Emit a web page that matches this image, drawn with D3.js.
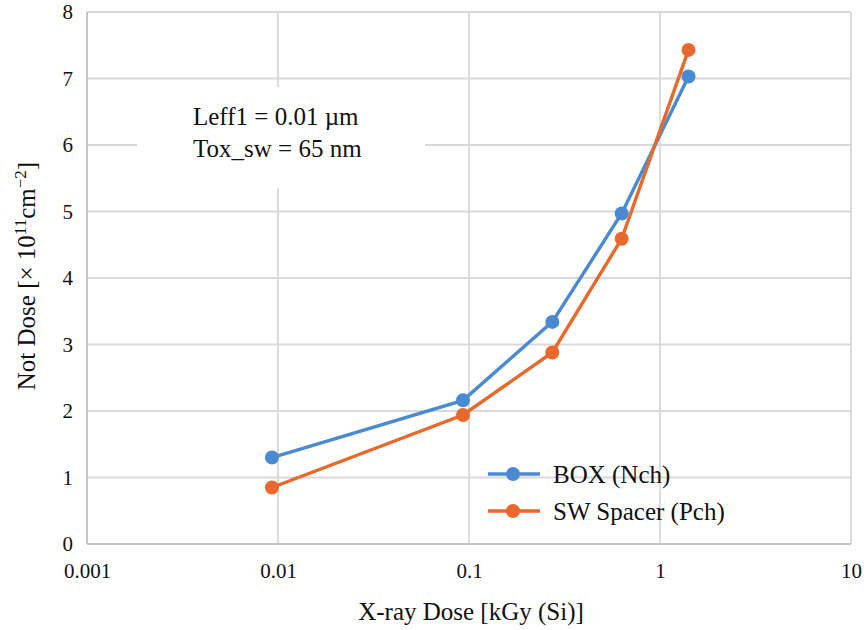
<!DOCTYPE html>
<html>
<head>
<meta charset="utf-8">
<script src="https://cdn.jsdelivr.net/npm/d3@7"></script>
<style>
  body { margin: 0; background: #fff; }
  svg { display: block; }
</style>
</head>
<body>
<div id="chart"></div>
<script>
const doses = [0.0093, 0.093, 0.273, 0.63, 1.41];
const boxNch = [1.30, 2.16, 3.34, 4.97, 7.03];
const swPch = [0.85, 1.94, 2.88, 4.59, 7.43];
const xTicks = [0.001, 0.01, 0.1, 1, 10];
const xTickLabels = ["0.001", "0.01", "0.1", "1", "10"];
const yTicks = [0, 1, 2, 3, 4, 5, 6, 7, 8];
const seriesNames = ["BOX (Nch)", "SW Spacer (Pch)"];
const noteLines = ["Leff1 = 0.01 µm", "Tox_sw = 65 nm"];

const W = 864, H = 630;
const margin = { top: 12, right: 13, bottom: 86, left: 87 };
const width = W - margin.left - margin.right;
const height = H - margin.top - margin.bottom;
const colors = ["#4a8ad2", "#e8692b"];
const serif = "'Liberation Serif', 'DejaVu Serif', serif";

const svg = d3.select("#chart").append("svg")
  .attr("width", W).attr("height", H)
  .style("font-family", serif);
const g = svg.append("g").attr("transform", `translate(${margin.left},${margin.top})`);

const x = d3.scaleLog().domain([0.001, 10]).range([0, width]);
const y = d3.scaleLinear().domain([0, 8]).range([height, 0]);

// grid
g.append("g").selectAll("line").data(yTicks).join("line")
  .attr("x1", 0).attr("x2", width)
  .attr("y1", d => y(d)).attr("y2", d => y(d))
  .attr("stroke", "#d9d9d9").attr("stroke-width", 1.8);
g.append("g").selectAll("line").data(xTicks).join("line")
  .attr("x1", d => x(d)).attr("x2", d => x(d))
  .attr("y1", 0).attr("y2", height)
  .attr("stroke", "#d9d9d9").attr("stroke-width", 1.8);

// axis lines
g.append("line").attr("x1", 0).attr("x2", 0).attr("y1", 0).attr("y2", height)
  .attr("stroke", "#c4c4c4").attr("stroke-width", 2);
g.append("line").attr("x1", 0).attr("x2", width).attr("y1", height).attr("y2", height)
  .attr("stroke", "#c4c4c4").attr("stroke-width", 2);

// axes (labels only)
const yAxis = g.append("g").call(d3.axisLeft(y).tickValues(yTicks).tickSize(0).tickPadding(14));
yAxis.attr("font-family", null);
yAxis.select(".domain").remove();
yAxis.selectAll("text").style("font-size", "21px").style("font-family", serif).attr("fill", "#111");

const xAxis = g.append("g").attr("transform", `translate(0,${height})`)
  .call(d3.axisBottom(x).tickValues(xTicks).tickFormat((d, i) => xTickLabels[i]).tickSize(0).tickPadding(19));
xAxis.attr("font-family", null);
xAxis.select(".domain").remove();
xAxis.selectAll("text").style("font-size", "21px").style("font-family", serif).attr("fill", "#111");

// annotation box
g.append("rect").attr("x", 50).attr("y", 75).attr("width", 288).attr("height", 101).attr("fill", "#fff");
g.append("g").selectAll("text").data(noteLines).join("text")
  .attr("x", 106).attr("y", (d, i) => 113 + i * 32)
  .style("font-size", "25px").attr("fill", "#111")
  .text(d => d);

// series
const line = d3.line().x(d => x(d[0])).y(d => y(d[1]));
[boxNch, swPch].forEach((vals, idx) => {
  const pts = doses.map((d, i) => [d, vals[i]]);
  g.append("path").datum(pts).attr("d", line)
    .attr("fill", "none").attr("stroke", colors[idx]).attr("stroke-width", 3.4);
  g.append("g").selectAll("circle").data(pts).join("circle")
    .attr("cx", d => x(d[0])).attr("cy", d => y(d[1])).attr("r", 7)
    .attr("fill", colors[idx]);
});

// legend
const legend = g.append("g").attr("transform", "translate(401,462)");
seriesNames.forEach((name, i) => {
  const row = legend.append("g").attr("transform", `translate(0,${i * 37})`);
  row.append("line").attr("x1", 0).attr("x2", 52).attr("y1", 0).attr("y2", 0)
    .attr("stroke", colors[i]).attr("stroke-width", 3.4);
  row.append("circle").attr("cx", 25).attr("cy", 0).attr("r", 7).attr("fill", colors[i]);
  row.append("text").attr("x", 65).attr("y", 9).style("font-size", "25px").attr("fill", "#111").text(name);
});

// axis titles
svg.append("text").attr("x", 471).attr("y", 620)
  .attr("text-anchor", "middle").style("font-size", "25px").attr("fill", "#111")
  .text("X-ray Dose [kGy (Si)]");

const yt = svg.append("text").attr("transform", "translate(35,276) rotate(-90)")
  .attr("text-anchor", "middle").style("font-size", "25px").attr("fill", "#111");
yt.append("tspan").text("Not Dose [× 10");
yt.append("tspan").attr("dy", -9).style("font-size", "17px").text("11");
yt.append("tspan").attr("dy", 9).text("cm");
yt.append("tspan").attr("dy", -9).style("font-size", "17px").text("−2");
yt.append("tspan").attr("dy", 9).text("]");
</script>
</body>
</html>
